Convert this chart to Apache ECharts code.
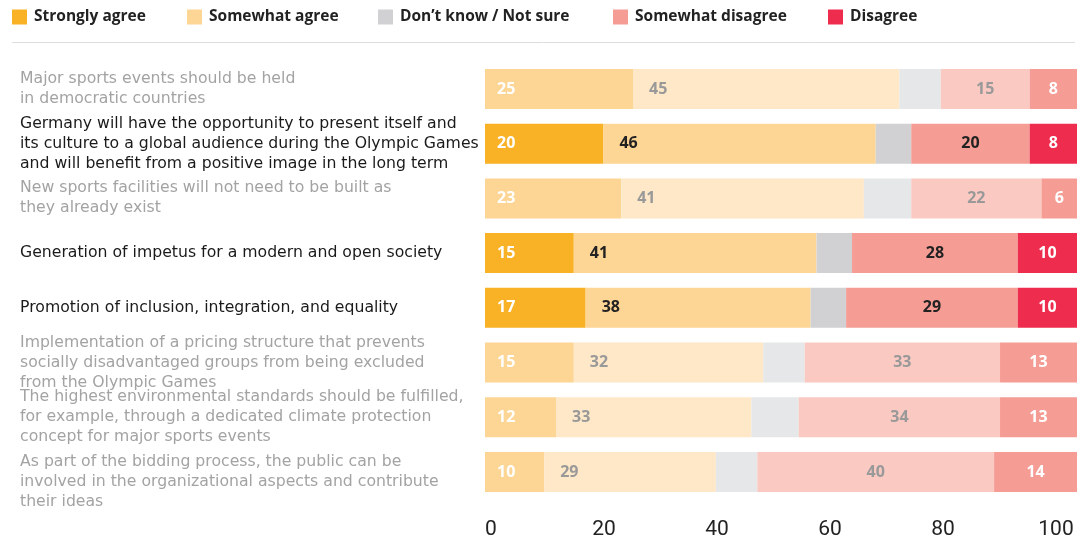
<!DOCTYPE html>
<html>
<head>
<meta charset="utf-8">
<script src="https://cdn.jsdelivr.net/npm/echarts@6/dist/echarts.min.js"></script>
<style>html,body{margin:0;padding:0;background:#fff}#c{width:1091px;height:560px}</style>
</head>
<body>
<div id="c"></div>
<script>
const categories = [
  "Major sports events should be held\nin democratic countries",
  "Germany will have the opportunity to present itself and\nits culture to a global audience during the Olympic Games\nand will benefit from a positive image in the long term",
  "New sports facilities will not need to be built as\nthey already exist",
  "Generation of impetus for a modern and open society",
  "Promotion of inclusion, integration, and equality",
  "Implementation of a pricing structure that prevents\nsocially disadvantaged groups from being excluded\nfrom the Olympic Games",
  "The highest environmental standards should be fulfilled,\nfor example, through a dedicated climate protection\nconcept for major sports events",
  "As part of the bidding process, the public can be\ninvolved in the organizational aspects and contribute\ntheir ideas"
];
const highlighted = [false, true, false, true, true, false, false, false];
const seriesNames = ["Strongly agree", "Somewhat agree", "Don\u2019t know / Not sure", "Somewhat disagree", "Disagree"];
const stronglyAgree    = [25, 20, 23, 15, 17, 15, 12, 10];
const somewhatAgree    = [45, 46, 41, 41, 38, 32, 33, 29];
const dontKnow         = [7, 6, 8, 6, 6, 7, 8, 7];
const somewhatDisagree = [15, 20, 22, 28, 29, 33, 34, 40];
const disagree         = [8, 8, 6, 10, 10, 13, 13, 14];
const xTicks = [0, 20, 40, 60, 80, 100];

const values = [stronglyAgree, somewhatAgree, dontKnow, somewhatDisagree, disagree];
const colorsOn  = ['#F9B126', '#FDD594', '#D1D1D3', '#F59C94', '#EE2D4E'];
const colorsOff = ['#FDD594', '#FEE8C7', '#E6E7E8', '#FAC9C2', '#F59C94'];
const labelOn   = ['#ffffff', '#222222', null, '#222222', '#ffffff'];
const labelOff  = ['#ffffff', '#999999', null, '#999999', '#ffffff'];
const legendLeft = [12, 187, 378, 613, 828];

const FONT = '"Open Sans", sans-serif';
const CAT_FONT = '"DejaVu Sans", sans-serif';

const series = values.map((arr, s) => ({
  name: seriesNames[s],
  type: 'bar',
  stack: 'total',
  barWidth: 40,
  itemStyle: { color: colorsOn[s] },
  label: {
    show: s !== 2,
    position: (s === 0 || s === 1) ? 'insideLeft' : 'inside',
    distance: s === 0 ? 12 : 16,
    fontFamily: FONT,
    fontWeight: 700,
    fontSize: 16
  },
  data: arr.map((v, i) => ({
    value: v,
    itemStyle: { color: highlighted[i] ? colorsOn[s] : colorsOff[s] },
    label: { color: highlighted[i] ? labelOn[s] : labelOff[s] }
  }))
}));

const chart = echarts.init(document.getElementById('c'), null, { renderer: 'canvas' });
chart.setOption({
  animation: false,
  legend: seriesNames.map((n, s) => ({
    data: [n],
    left: legendLeft[s],
    top: 9,
    padding: 0,
    icon: 'rect',
    itemWidth: 15,
    itemHeight: 15,
    selectedMode: false,
    textStyle: { fontFamily: FONT, fontWeight: 700, fontSize: 15.5, color: '#222', padding: [0, 0, 0, 2] }
  })),
  graphic: [{
    type: 'line',
    shape: { x1: 12, y1: 42.5, x2: 1075, y2: 42.5 },
    style: { stroke: '#dddddd', lineWidth: 1 }
  }],
  grid: [
    { left: 485, right: 14, top: 61.6, bottom: 60.7 },
    { left: 491, right: 35, top: 61.6, bottom: 60.7 }
  ],
  xAxis: [
    { type: 'value', gridIndex: 0, min: 0, max: 100, axisLabel: { show: false }, splitLine: { show: false }, axisLine: { show: false }, axisTick: { show: false } },
    { type: 'value', gridIndex: 1, min: xTicks[0], max: xTicks[xTicks.length - 1], interval: xTicks[1] - xTicks[0],
      axisLabel: { fontFamily: 'Roboto, sans-serif', fontSize: 21, color: '#222', margin: 20 },
      splitLine: { show: false }, axisLine: { show: false }, axisTick: { show: false } }
  ],
  yAxis: [
    { type: 'category', gridIndex: 0, data: categories, inverse: true,
      axisLine: { show: false }, axisTick: { show: false },
      axisLabel: {
        interval: 0,
        align: 'left',
        margin: 465,
        fontFamily: CAT_FONT,
        fontSize: 15.7,
        lineHeight: 20,
        formatter: (v, i) => (v === categories[categories.length - 1] ? '\n' + v : v),
        color: (v) => highlighted[categories.indexOf(v)] ? '#1a1a1a' : '#a3a3a3'
      } },
    { type: 'category', gridIndex: 1, data: categories, show: false }
  ],
  series: series
});
</script>
</body>
</html>
